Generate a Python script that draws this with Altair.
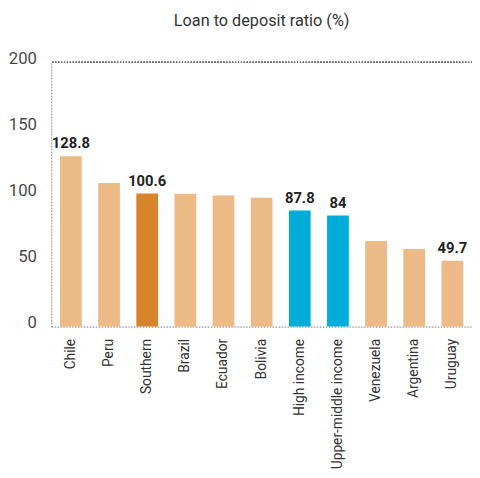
import altair as alt
import pandas as pd

categories = ["Chile", "Peru", "Southern", "Brazil", "Ecuador", "Bolivia",
              "High income", "Upper-middle income", "Venezuela", "Argentina", "Uruguay"]
values = [128.8, 108.5, 100.6, 100.4, 99.1, 97.4, 87.8, 84.0, 64.7, 58.7, 49.7]
groups = ["country", "country", "southern", "country", "country", "country",
          "income", "income", "country", "country", "country"]
labels = ["128.8", "", "100.6", "", "", "", "87.8", "84", "", "", "49.7"]
y_ticks = [0, 50, 100, 150, 200]

df = pd.DataFrame({"category": categories, "value": values, "group": groups, "label": labels})

FONT = "Roboto"

x_enc = alt.X("category:N", sort=categories,
              scale=alt.Scale(paddingInner=0.43, paddingOuter=0.23),
              axis=alt.Axis(title=None, labelAngle=-90, labelAlign="right", labelBaseline="middle",
                            labelFont=FONT, labelFontSize=14, labelColor="#333333",
                            labelPadding=12, ticks=False, domain=True,
                            domainDash=[1, 2], domainColor="#777777", domainWidth=1))
y_scale = alt.Scale(domain=[0, 200], nice=False)

bars = alt.Chart(df).mark_bar().encode(
    x=x_enc,
    y=alt.Y("value:Q", scale=y_scale,
            axis=alt.Axis(title=None, values=y_ticks, ticks=False, grid=False,
                          labelFont=FONT, labelFontSize=17, labelColor="#4a4a4a",
                          labelBaseline="alphabetic", labelPadding=15, labelOffset=1,
                          domainDash=[1, 2], domainColor="#777777", domainWidth=1)),
    color=alt.Color("group:N", legend=None,
                    scale=alt.Scale(domain=["country", "southern", "income"],
                                    range=["#EBBA87", "#D8842B", "#00ADD8"])),
)

text = alt.Chart(df).mark_text(dy=-8, baseline="alphabetic", font=FONT, fontSize=15,
                               fontWeight="bold", color="#222222").encode(
    x=alt.X("category:N", sort=categories),
    y=alt.Y("value:Q", scale=y_scale),
    text="label:N",
)

top_rule = alt.Chart(df).mark_rule(strokeDash=[1, 2], color="#777777", strokeWidth=1).encode(
    y=alt.datum(200, scale=y_scale),
)

chart = alt.layer(top_rule, bars, text).properties(
    width=428, height=269,
    title=alt.TitleParams("Loan to deposit ratio (%)", font=FONT, fontSize=16.5, fontWeight="normal",
                          color="#333333", anchor="middle", offset=20),
    autosize=alt.AutoSizeParams(type="none"),
    padding={"left": 44, "top": 51, "right": 0, "bottom": 150},
).configure_view(stroke=None).configure(background="white")

chart.save("out.html", embed_options={"renderer": "svg", "actions": False})
